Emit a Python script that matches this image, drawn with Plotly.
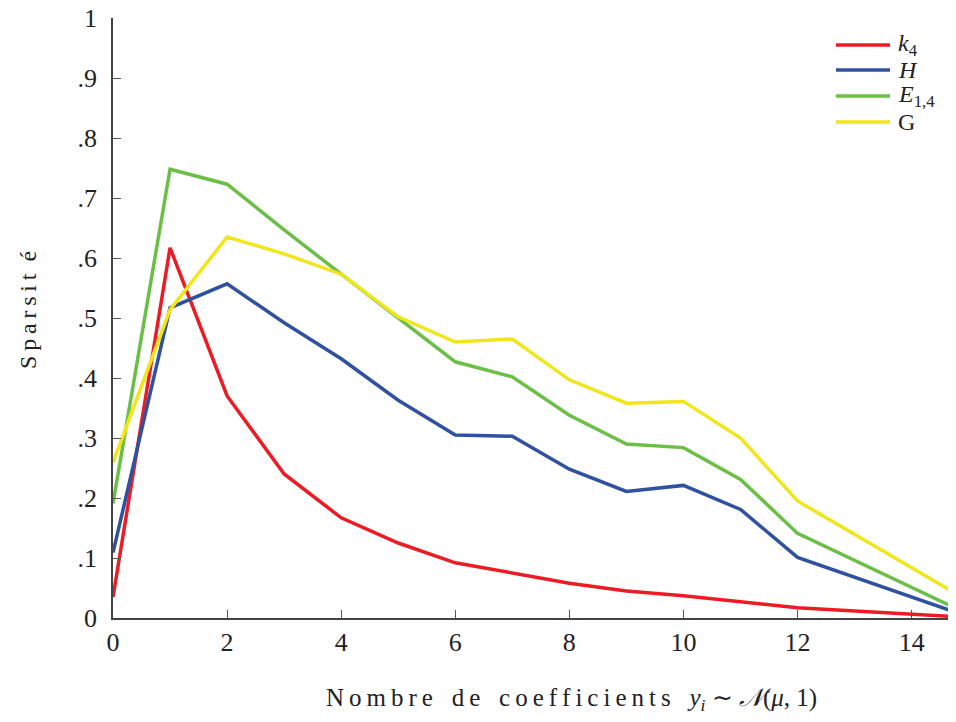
import plotly.graph_objects as go

x_vals = [0, 1, 2, 3, 4, 5, 6, 7, 8, 9, 10, 11, 12, 15]
k4 = [0.035, 0.617, 0.370, 0.240, 0.167, 0.125, 0.092, 0.075, 0.058, 0.045, 0.037, 0.027, 0.017, 0.001]
H = [0.109, 0.517, 0.557, 0.492, 0.432, 0.363, 0.305, 0.303, 0.248, 0.211, 0.221, 0.181, 0.101, 0.002]
E14 = [0.191, 0.748, 0.723, 0.647, 0.573, 0.500, 0.427, 0.402, 0.338, 0.290, 0.284, 0.231, 0.141, 0.006]
G = [0.259, 0.514, 0.635, 0.607, 0.573, 0.502, 0.460, 0.465, 0.397, 0.358, 0.361, 0.300, 0.195, 0.028]

names = ["<i>k</i><sub>4</sub>", "<i>H</i>", "<i>E</i><sub>1,4</sub>", "G"]
series = [k4, H, E14, G]
colors = ["#ED1C24", "#3050A0", "#6CBF46", "#F0E619"]

y_ticks = [0, 0.1, 0.2, 0.3, 0.4, 0.5, 0.6, 0.7, 0.8, 0.9, 1]
y_tick_labels = ["0", ".1", ".2", ".3", ".4", ".5", ".6", ".7", ".8", ".9", "1"]
x_ticks = [0, 2, 4, 6, 8, 10, 12, 14]

FONT = "Liberation Serif"
TXT = "#222222"
TS = "\u2009"


def spaced(word):
    return TS.join(word)


fig = go.Figure()
for name, ys, c in zip(names, series, colors):
    fig.add_trace(go.Scatter(x=x_vals, y=ys, mode="lines", name=name,
                             line=dict(color=c, width=3.5), showlegend=False))

axis_common = dict(showgrid=False, zeroline=False, showline=True, linecolor="#444444",
                   linewidth=1.5, ticks="inside", ticklen=8, tickcolor="#555555",
                   tickwidth=1.2, tickfont=dict(family=FONT, size=26, color=TXT),
                   mirror=False, automargin=False, ticklabeloverflow="allow")

# page has an 8px body margin; figure sized so plot area lands at x 113..955, y 18..618
fig.update_layout(
    width=948, height=706,
    margin=dict(l=105, r=1, t=10, b=96),
    paper_bgcolor="white", plot_bgcolor="white",
    font=dict(family=FONT, color=TXT),
    xaxis=dict(range=[0, 14.76], tickvals=x_ticks, **axis_common),
    yaxis=dict(range=[0, 1], tickvals=y_ticks, ticktext=y_tick_labels,
               ticklabelstandoff=9, **axis_common),
    showlegend=False,
)

# legend (manual, to match compact spacing)
leg_rows_px = [45, 70, 96, 122]
for name, c, py in zip(names, colors, leg_rows_px):
    yp = (618 - py) / 600
    fig.add_shape(type="line", xref="paper", yref="paper",
                  x0=(836 - 113) / 842, x1=(890 - 113) / 842, y0=yp, y1=yp,
                  line=dict(color=c, width=3.5))
    fig.add_annotation(text=name, xref="paper", yref="paper",
                       x=(896 - 113) / 842, y=yp, xanchor="left", yanchor="middle",
                       showarrow=False, font=dict(family=FONT, size=24, color=TXT))

# axis titles
fig.add_annotation(
    text=spaced("Sparsit") + "  é",
    xref="paper", yref="paper", x=(28 - 113) / 842, y=(618 - 310) / 600,
    xanchor="center", yanchor="middle", textangle=-90, showarrow=False,
    font=dict(family=FONT, size=24, color=TXT))

fig.add_annotation(
    text=spaced("Nombre") + "   " + spaced("de") + "   " + spaced("coefficients")
         + "   <i>y</i><sub><i>i</i></sub> ∼ <i>𝒩</i>(<i>μ</i>, 1)",
    xref="paper", yref="paper", x=(571 - 113) / 842, y=(618 - 699) / 600,
    xanchor="center", yanchor="middle", showarrow=False,
    font=dict(family=FONT, size=25, color=TXT))

fig.write_html("out.html")
